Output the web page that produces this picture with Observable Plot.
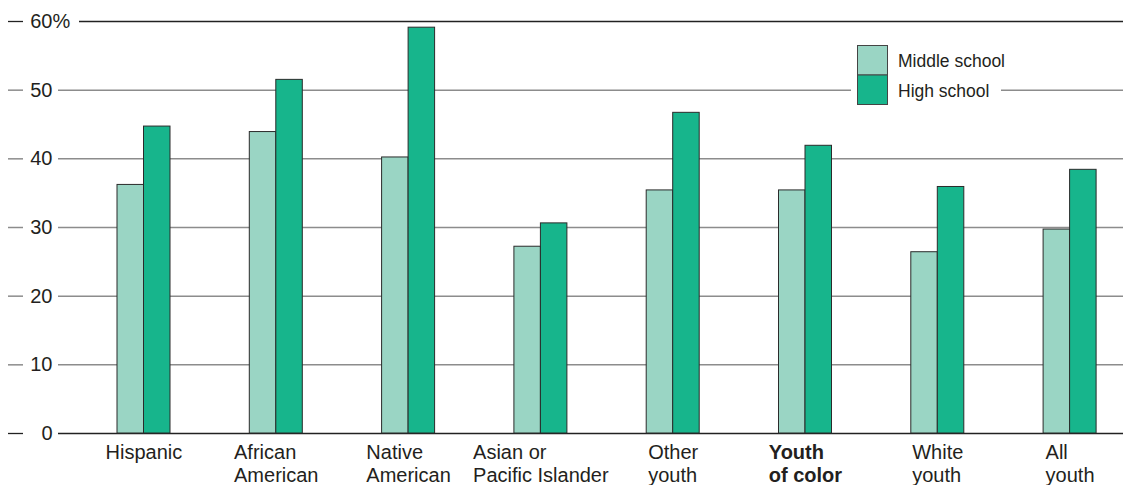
<!DOCTYPE html>
<html><head><meta charset="utf-8">
<script src="https://cdn.jsdelivr.net/npm/d3@7"></script>
<script src="https://cdn.jsdelivr.net/npm/@observablehq/plot@0.6"></script>
<style>
html,body{margin:0;padding:0;background:#fff;}
#chart{width:1123px;height:485px;}
</style></head><body><div id="chart"></div>
<script>
const categories = ["Hispanic","African American","Native American","Asian or Pacific Islander","Other youth","Youth of color","White youth","All youth"];
const categoryLines = [["Hispanic"],["African","American"],["Native","American"],["Asian or","Pacific Islander"],["Other","youth"],["Youth","of color"],["White","youth"],["All","youth"]];
const series = ["Middle school","High school"];
const seriesColors = ["#9ad5c4","#17b58c"];
const middleSchool = [36.2,43.9,40.2,27.2,35.4,35.4,26.4,29.7];
const highSchool = [44.7,51.5,59.1,30.6,46.7,41.9,35.9,38.4];
const yTicks = [0,10,20,30,40,50,60];
const boldCategory = "Youth of color";

const rows = [];
categories.forEach((c,i)=>{
  rows.push({category:c, level:series[0], value:middleSchool[i]});
  rows.push({category:c, level:series[1], value:highSchool[i]});
});

const FONT = "'Liberation Sans', Arial, Helvetica, sans-serif";
const ink = "#231f20";
const canvas = document.createElement("canvas");
const ctx = canvas.getContext("2d");
function measure(t, bold){ ctx.font = (bold?"bold ":"") + "20px 'Liberation Sans'"; return ctx.measureText(t).width; }

const W = 1123, H = 485;
const band = 132.3, groupLeft = 39.7, barW = 26.5;

const labelMarks = categories.map((c,i)=>{
  const bold = c === boldCategory;
  const w = Math.max(...categoryLines[i].map(l=>measure(l,bold)));
  return Plot.text([c], {x: d=>d, text: ()=>categoryLines[i].join("\n"), frameAnchor:"bottom",
    textAnchor:"start", lineAnchor:"top", dx: -w/2, dy: 9.8, lineHeight: 1.13,
    fontSize: 20, fontWeight: bold ? "bold" : "normal", fill: ink, fontFamily: FONT});
});

const grey = "#8c8c8c", dark = "#222";
const plot = Plot.plot({
  width: W, height: H,
  marginTop: 21, marginBottom: 52, marginLeft: 0, marginRight: 0,
  style: {fontFamily: FONT, background: "#fff", overflow: "visible"},
  x: {type: "band", domain: categories, range: [77.3, 77.3 + band*categories.length], padding: 0, round: false, axis: null},
  y: {domain: [0, 60], axis: null},
  color: {domain: series, range: seriesColors},
  marks: [
    Plot.ruleY(yTicks.filter(t=>t!==0 && t!==60), {y: d=>d, insetLeft: 58, stroke: grey, strokeWidth: 1.5}),
    Plot.ruleY(yTicks.filter(t=>t!==0 && t!==60), {y: d=>d, insetLeft: 8, insetRight: W-23, stroke: grey, strokeWidth: 1.5}),
    Plot.ruleY([60], {y: d=>d, insetLeft: 79, stroke: dark, strokeWidth: 1.3}),
    Plot.ruleY([0,60], {y: d=>d, insetLeft: 8, insetRight: W-23, stroke: dark, strokeWidth: 1.3}),
    Plot.ruleY([0], {y: d=>d, insetLeft: 58, stroke: dark, strokeWidth: 1.3}),
    Plot.barY(rows.filter(r=>r.level===series[0]), {x:"category", y:"value", fill:"level",
      insetLeft: groupLeft, insetRight: band-groupLeft-barW, stroke:"#2b2b2b", strokeWidth:1}),
    Plot.barY(rows.filter(r=>r.level===series[1]), {x:"category", y:"value", fill:"level",
      insetLeft: groupLeft+barW, insetRight: band-groupLeft-2*barW, stroke:"#2b2b2b", strokeWidth:1}),
    Plot.text(yTicks, {y: d=>d, text: d=>String(d), frameAnchor:"left", dx: 52, textAnchor:"end",
      lineAnchor:"middle", fontSize: 20, fill: ink, fontFamily: FONT}),
    Plot.text([60], {y: d=>d, text: ()=>"%", frameAnchor:"left", dx: 52, textAnchor:"start",
      lineAnchor:"middle", fontSize: 20, fill: ink, fontFamily: FONT}),
    ...labelMarks
  ]
});
document.getElementById("chart").appendChild(plot);

// Legend
const color = plot.scale("color");
const svg = d3.select(plot);
const lg = svg.append("g").attr("font-family", FONT).attr("font-size", 17.5).attr("fill", ink).attr("text-anchor", "start");
lg.append("rect").attr("x", 851).attr("y", 84).attr("width", 150).attr("height", 11).attr("fill", "#fff");
series.forEach((s,i)=>{
  lg.append("rect").attr("x", 857.5).attr("y", 45.5 + i*29.5).attr("width", 30).attr("height", 29.5)
    .attr("fill", color.apply(s)).attr("stroke", "#444").attr("stroke-width", 1);
  lg.append("text").attr("x", 898).attr("y", 67 + i*29.5).attr("text-anchor", "start").text(s);
});
</script></body></html>
